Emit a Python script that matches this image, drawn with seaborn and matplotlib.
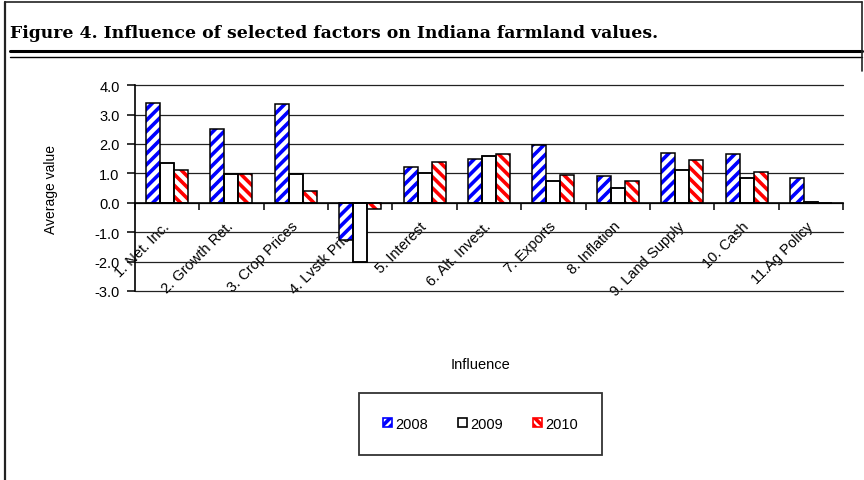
import matplotlib
matplotlib.use("Agg")
import matplotlib.pyplot as plt
import matplotlib.ticker as mticker
from matplotlib.lines import Line2D
from matplotlib.patches import Rectangle
import numpy as np
import pandas as pd
import seaborn as sns

# Chart values
factors = ["1. Net. Inc.", "2. Growth Ret.", "3. Crop Prices", "4. Lvstk Prices",
           "5. Interest", "6. Alt. Invest.", "7. Exports", "8. Inflation",
           "9. Land Supply", "10. Cash", "11.Ag Policy"]
years = ["2008", "2009", "2010"]
vals_2008 = [3.4, 2.5, 3.35, -1.25, 1.2, 1.5, 1.95, 0.9, 1.7, 1.65, 0.85]
vals_2009 = [1.35, 0.97, 0.97, -2.0, 1.0, 1.6, 0.75, 0.5, 1.1, 0.85, 0.02]
vals_2010 = [1.1, 0.97, 0.4, -0.2, 1.4, 1.65, 0.95, 0.75, 1.45, 1.05, 0.0]
y_ticks = [-3.0, -2.0, -1.0, 0.0, 1.0, 2.0, 3.0, 4.0]

df = pd.DataFrame({
    "factor": factors * 3,
    "year": [y for y in years for _ in factors],
    "value": vals_2008 + vals_2009 + vals_2010,
})

sns.set_style("white")
plt.rcParams["font.family"] = ["Liberation Sans", "DejaVu Sans"]
plt.rcParams["hatch.linewidth"] = 2.6
for key in ["text.color", "axes.labelcolor", "xtick.color", "ytick.color"]:
    plt.rcParams[key] = "black"

fig = plt.figure(figsize=(8.64, 4.81), dpi=100)
ax = fig.add_axes([0.156, 0.393, 0.82, 0.428])

sns.barplot(data=df, x="factor", y="value", hue="year", order=factors,
            hue_order=years, palette=["white", "white", "white"],
            width=0.65, gap=0, ax=ax, legend=False, zorder=3)

styles = {"2008": ("blue", "///"), "2009": (None, None), "2010": ("red", "\\\\\\")}
for year, cont in zip(years, ax.containers):
    col, hatch = styles[year]
    for p in cont.patches:
        if hatch:
            p.set_hatch(hatch)
            p.set_edgecolor(col)
            p.set_linewidth(0)
        else:
            p.set_edgecolor("black")
            p.set_linewidth(1.1)
        # black outline on top of the hatch
        ax.add_patch(Rectangle(p.get_xy(), p.get_width(), p.get_height(),
                               fill=False, edgecolor="black", linewidth=1.1,
                               zorder=4))

ax.set_ylim(-3, 4)
ax.set_xlim(-0.5, len(factors) - 0.5)
ax.set_yticks(y_ticks)
ax.yaxis.set_major_formatter(mticker.FormatStrFormatter("%.1f"))
ax.yaxis.grid(True, color="#222222", linewidth=0.9, zorder=0)
ax.set_axisbelow(True)
for gl in ax.get_ygridlines():
    gl.set_clip_on(False)

for s in ["top", "right"]:
    ax.spines[s].set_visible(False)
ax.spines["bottom"].set_position(("data", 0))
ax.spines["bottom"].set_zorder(5)
for s in ["left", "bottom"]:
    ax.spines[s].set_color("black")
    ax.spines[s].set_linewidth(1.2)

ax.xaxis.set_minor_locator(mticker.FixedLocator(np.arange(-0.5, len(factors), 1.0)))
ax.tick_params(axis="x", which="minor", bottom=True, length=5, width=1.1,
               direction="out", color="black")
ax.tick_params(axis="x", which="major", length=0, pad=15, labelsize=10.5)
ax.tick_params(axis="y", left=True, length=6, width=1.1, direction="out",
               labelsize=10.5, pad=5, color="black")
for lab in ax.get_xticklabels():
    lab.set_rotation(45)
    lab.set_ha("right")
    lab.set_va("center")
    lab.set_rotation_mode("anchor")

ax.set_xlabel("")
ax.set_ylabel("Average value", fontsize=10, labelpad=26)
fig.text(0.556, 0.241, "Influence", fontsize=10.5, ha="center", va="center")

handles = [Rectangle((0, 0), 1, 1, facecolor="white", edgecolor="black",
                     hatch=h, linewidth=1.2)
           for h in ["////", None, "\\\\\\\\"]]
handles[0].set_edgecolor("blue")
handles[2].set_edgecolor("red")
leg = fig.legend(handles, years, loc="center", bbox_to_anchor=(0.556, 0.117),
                 ncol=3, frameon=True, fancybox=False, edgecolor="black",
                 fontsize=10.5, handlelength=0.6, handleheight=0.6,
                 handletextpad=0.2, columnspacing=2.1, borderpad=1.65,
                 borderaxespad=0)
leg.get_frame().set_linewidth(1.3)

# Title and page frame
fig.text(0.012, 0.931, "Figure 4. Influence of selected factors on Indiana farmland values.",
         fontsize=12.4, fontweight="bold", family=["DejaVu Serif"],
         ha="left", va="center", color="black")
fig.add_artist(Line2D([0.012, 0.998], [0.891, 0.891], color="black", linewidth=2.2))
fig.add_artist(Line2D([0.012, 0.998], [0.880, 0.880], color="black", linewidth=1.0))
fig.add_artist(Line2D([0.006, 0.006], [0.0, 0.994], color="#222222", linewidth=1.6))
fig.add_artist(Line2D([0.006, 0.998], [0.994, 0.994], color="#222222", linewidth=1.2))
fig.add_artist(Line2D([0.998, 0.998], [0.85, 0.994], color="#222222", linewidth=1.2))

fig.savefig("out.png", dpi=100)
